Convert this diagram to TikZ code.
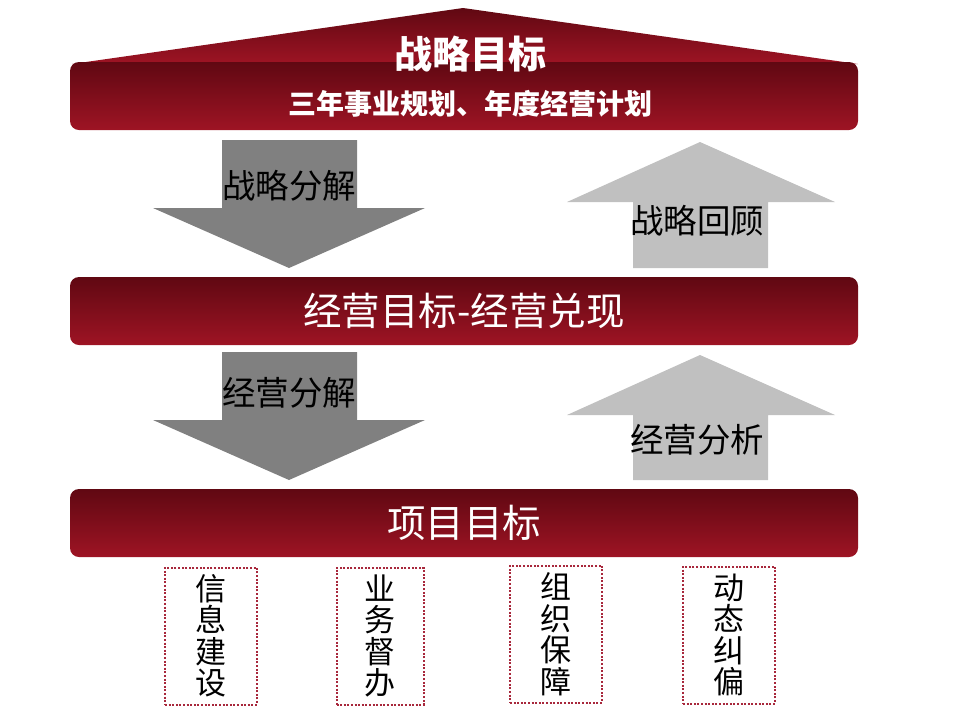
\documentclass[tikz,border=0pt]{standalone}
\usepackage{fontspec}
\setmainfont{Noto Sans CJK SC}
\usetikzlibrary{positioning}

\definecolor{bardark}{RGB}{96,8,18}
\definecolor{barred}{RGB}{158,20,36}
\definecolor{downgray}{RGB}{128,128,128}
\definecolor{upgray}{RGB}{192,192,192}
\definecolor{dotred}{RGB}{168,40,60}

\tikzstyle {bar} = [rounded corners=9pt, top color=bardark, bottom color=barred, minimum width=788pt, minimum height=68pt, text=white, inner sep=0pt]
\tikzstyle {arrowlabel} = [text=black, font=\fontsize{33.5}{35}\selectfont, inner sep=0pt]
\tikzstyle {taskbox} = [draw=dotred, dash pattern=on 2pt off 1.6pt, line width=2pt, minimum height=137pt, align=center, font=\fontsize{31}{31.5}\selectfont, inner sep=0pt]

\begin{document}
\begin{tikzpicture}[x=1pt, y=-1pt]
            \useasboundingbox (0,0) rectangle (960,713);
            % roof
            \shade[top color=bardark, bottom color=barred] (72,64) -- (463,8) -- (858,64) -- cycle;
            \node [bar] (goal) at (464,96) {};
            \node [text=white, font=\bfseries\fontsize{38}{40}\selectfont, inner sep=0pt] (goaltitle) at (470,54) {战略目标};
            \node [text=white, font=\bfseries\fontsize{28}{30}\selectfont, inner sep=0pt] (goalsub) at (470,104) {三年事业规划、年度经营计划};
            \node [bar, font=\fontsize{38.5}{40}\selectfont] (bizgoal) at (464,311) {经营目标-经营兑现};
            \node [bar, font=\fontsize{38.5}{40}\selectfont] (projgoal) at (464,523) {项目目标};

            % block arrows
            \fill [downgray] (222,140) -- (357,140) -- (357,208) -- (425,208) -- (289,268) -- (153,208) -- (222,208) -- cycle;
            \fill [upgray] (700,142) -- (835,202) -- (768,202) -- (768,268) -- (633,268) -- (633,202) -- (567,202) -- cycle;
            \fill [downgray] (222,352) -- (357,352) -- (357,420) -- (425,420) -- (289,480) -- (153,420) -- (222,420) -- cycle;
            \fill [upgray] (700,355) -- (835,415) -- (768,415) -- (768,480) -- (633,480) -- (633,415) -- (567,415) -- cycle;
            \node [arrowlabel] (split1) at (289,186) {战略分解};
            \node [arrowlabel] (review) at (697,221) {战略回顾};
            \node [arrowlabel] (split2) at (289,393) {经营分解};
            \node [arrowlabel] (analyse) at (697,440) {经营分析};

            % supports
            \node [taskbox, minimum width=92pt] (info) at (211,636) {信\\息\\建\\设};
            \node [taskbox, minimum width=87pt] (supervise) at (380,636) {业\\务\\督\\办};
            \node [taskbox, minimum width=92pt] (org) at (556,634) {组\\织\\保\\障};
            \node [taskbox, minimum width=92pt] (adjust) at (729,635) {动\\态\\纠\\偏};
        \end{tikzpicture}
\end{document}
